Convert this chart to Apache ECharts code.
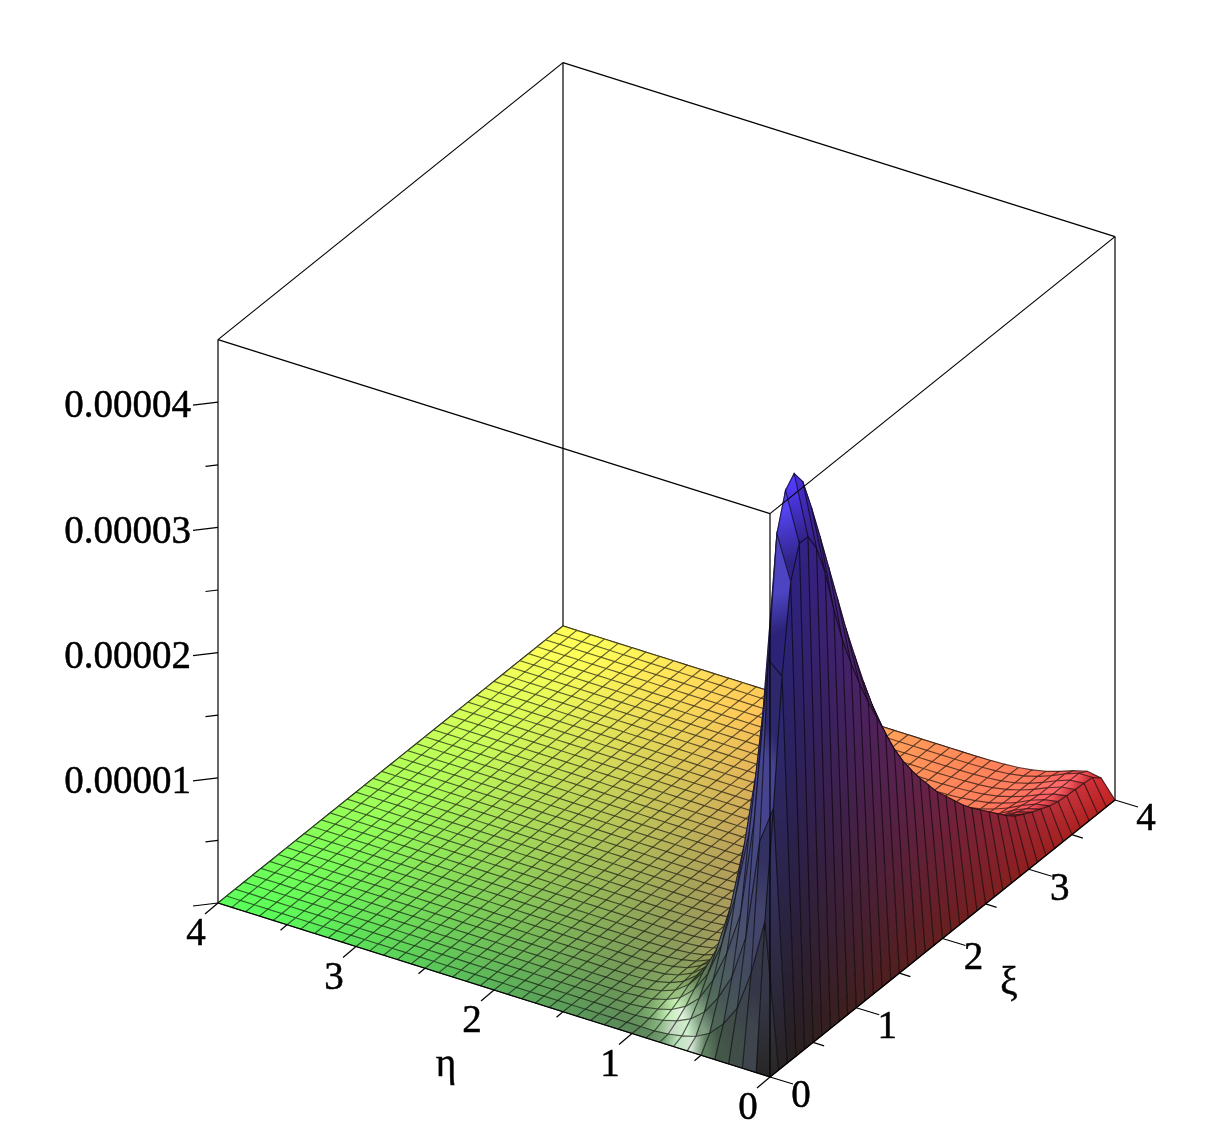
<!DOCTYPE html>
<html><head><meta charset="utf-8">
<style>html,body{margin:0;padding:0;background:#fff}#c{width:1215px;height:1141px}</style>
<script src="https://cdn.jsdelivr.net/npm/echarts@6/dist/echarts.min.js"></script>
</head><body><div id="c"></div>
<script>
// surface heights in units of 1e-6; one row per xi = 0, 0.1 ... 4.0, entries for eta = 0, 0.1, 0.2 ...; beyond the listed entries the surface lies on the floor
const zByXi = [
[0],
[0,11.5,7,3.9,2.3,1.2,.6,.3,.1],
[0,20,17,9,5.5,3.5,2,1.1,.6,.3,.1],
[0,30,31,18,10,6.5,4,2.2,1.2,.6,.3,.1],
[0,37,40.5,26,16,10.5,6.3,3.6,2,1,.5,.2,.1],
[0,39.5,43.4,31,21,14,8.7,5,2.8,1.5,.7,.3,.1],
[0,39.5,44.2,32.5,22.5,15.2,9.5,5.6,3.2,1.7,.85,.4,.15,.05],
[0,38,43,33,23,15.3,9.6,5.7,3.4,1.8,.95,.45,.2,.1],
[0,35.5,40.4,31.2,21.8,14.6,9.2,5.4,3.3,1.8,1,.48,.24,.1],
[0,32,37.5,28.5,20,13.3,8.3,4.9,3,1.65,.9,.45,.22,.1,.05],
[0,29,34.5,25.8,18,11.9,7.5,4.4,2.7,1.5,.8,.4,.2,.1,.05],
[0,26.6,31.5,23.8,16.6,11,7,4.2,2.6,1.4,.8,.4,.2,.1,.05],
[0,24.4,28.5,21.8,15.3,10.1,6.5,3.9,2.4,1.4,.8,.4,.2,.1,.05],
[0,22.4,25.8,19.8,14,9.2,6,3.7,2.3,1.35,.8,.4,.2,.1,.05,.02],
[0,20.6,23.2,18,12.9,8.4,5.6,3.5,2.2,1.3,.8,.4,.22,.1,.05,.02],
[0,18.8,20.8,16.3,11.8,7.8,5.2,3.3,2.1,1.3,.8,.42,.22,.11,.05,.02],
[0,17,18.6,14.8,10.7,7.1,4.8,3.1,2,1.25,.75,.42,.22,.11,.05,.02],
[0,15.5,16.7,13.3,9.7,6.5,4.4,2.9,1.9,1.2,.72,.42,.22,.11,.05,.02],
[0,14.2,15,12,8.8,6,4.1,2.7,1.8,1.15,.7,.42,.23,.12,.05,.02],
[0,13,13.5,10.8,7.9,5.4,3.8,2.4,1.6,1.05,.65,.38,.22,.1,.05,.02],
[0,11.9,12.2,9.8,7.2,5,3.5,2.3,1.5,1,.6,.35,.2,.1,.05,.02],
[0,10.8,10.9,8.8,6.4,4.4,3.1,2,1.35,.88,.52,.3,.17,.08,.04,.02],
[0,9.9,9.7,7.8,5.7,4,2.8,1.8,1.2,.78,.46,.26,.15,.07,.03,.01],
[0,9,8.6,6.9,5,3.5,2.5,1.55,1.05,.68,.4,.23,.13,.06,.03,.01],
[0,8.1,7.6,6,4.4,3.1,2.2,1.35,.9,.58,.33,.2,.11,.05,.02,.01],
[0,7.3,6.7,5.3,3.9,2.7,1.9,1.15,.75,.45,.26,.15,.08,.03,.02,.01],
[0,6.6,5.9,4.7,3.4,2.3,1.6,1,.62,.36,.2,.1,.06,.02,.01],
[0,5.9,5.2,4.1,2.95,2,1.35,.85,.52,.28,.15,.07,.04,.02],
[0,5.2,4.6,3.6,2.6,1.75,1.15,.7,.43,.22,.1,.05,.03,.01],
[0,4.5,4,3.1,2.25,1.52,.98,.6,.36,.19,.08,.04,.02],
[0,3.9,3.5,2.7,1.95,1.32,.84,.52,.31,.16,.07,.035,.02],
[0,3.5,3.1,2.4,1.73,1.17,.74,.46,.27,.13,.06,.03,.01],
[0,3.1,2.8,2.2,1.57,1.05,.66,.41,.24,.12,.05,.03,.01],
[0,2.8,2.5,2,1.4,.94,.58,.36,.21,.1,.05,.02,.01],
[0,2.5,2.3,1.85,1.29,.86,.53,.32,.18,.09,.04,.02],
[0,2.3,2.1,1.7,1.18,.78,.47,.28,.15,.07,.03,.01],
[0,2.2,2,1.6,1.12,.74,.44,.25,.13,.06,.02,.01],
[0,2.15,2,1.6,1.12,.72,.42,.22,.11,.05,.02],
[0,2.1,2,1.6,1.12,.7,.4,.2,.1,.04,.01],
[0,2,2,1.6,1.1,.7,.4,.2,.1,.04,.01],
[0,1.4,1.6,1.3,.9,.56,.32,.16,.08,.03]
];
const xiTicks = [0,1,2,3,4];
const etaTicks = [0,1,2,3,4];
const xiMinorTicks = [0.5,1.5,2.5,3.5];
const etaMinorTicks = [0.5,1.5,2.5,3.5];
const zTicks = [0,10,20,30,40];
const zMinorTicks = [5,15,25,35];
const zTickLabels = ['', '0.00001', '0.00002', '0.00003', '0.00004'];
const zMax = 45;
const cells = 40, cellSize = 0.1;

function project(xi, eta, z){
  return [770 + 86.25*xi - 138*eta, 1077 - 69.25*xi - 43.5*eta - 12.52*z];
}
function zAt(j, i){
  j = Math.max(0, Math.min(cells, j)); i = Math.max(0, Math.min(cells, i));
  const row = zByXi[j];
  return i < row.length ? row[i] : 0;
}
const norm = v => { const l = Math.hypot(v[0],v[1],v[2]); return [v[0]/l,v[1]/l,v[2]/l]; };
const dot = (a,b) => a[0]*b[0]+a[1]*b[1]+a[2]*b[2];
const LIGHT = norm([-0.2,0.75,0.6]);
const SIDE = norm([-0.8,0.3,0.5]);
const HALF = norm([-0.45,0.33,0.82]);
function vertexColor(j, i){
  const z = zAt(j,i);
  const ii = Math.max(i,1), jj = Math.max(j,1);
  const zx = (zAt(j+1,ii)-zAt(j-1,ii))/zMax/(((Math.min(cells,j+1)-Math.max(0,j-1)))*cellSize/4);
  const zy = (zAt(jj,i+1)-zAt(jj,i-1))/zMax/(((Math.min(cells,i+1)-Math.max(0,i-1)))*cellSize/4);
  const n = norm([-zx,-zy,1]);
  const d = Math.max(0,dot(n,LIGHT));
  const d2 = Math.max(0,dot(n,SIDE));
  const s = Math.pow(Math.max(0,dot(n,HALF)),30);
  const mult = 0.55 + 0.13*n[2] + 1.6*Math.max(0,d-0.6) + 0.3*Math.max(0,d2-0.5);
  const white = 0.12 + 0.18*Math.pow(n[2],4) + 0.13*Math.pow(d2,1.5) + 0.75*s;
  const base = [j/cells, i/cells, Math.pow(z/zMax,0.8)*0.8];
  return base.map(c => Math.min(1, c*mult + white));
}
const mix = (a,b) => [(a[0]+b[0])/2,(a[1]+b[1])/2,(a[2]+b[2])/2];
const rgb = c => 'rgb('+Math.round(c[0]*255)+','+Math.round(c[1]*255)+','+Math.round(c[2]*255)+')';

// far cells first so that nearer cells cover them
const cellData = [];
for (let j = cells-1; j >= 0; j--) for (let i = cells-1; i >= 0; i--) cellData.push([j,i]);

function renderCell(params, api){
  const j = api.value(0), i = api.value(1);
  const P = (jj,ii) => api.coord(project(jj*cellSize, ii*cellSize, zAt(jj,ii)));
  const a = P(j,i), b = P(j+1,i), c = P(j+1,i+1), d = P(j,i+1);
  const nearC = mix(vertexColor(j,i),vertexColor(j+1,i));
  const farC = mix(vertexColor(j,i+1),vertexColor(j+1,i+1));
  const m0 = [(a[0]+b[0])/2,(a[1]+b[1])/2], m1 = [(c[0]+d[0])/2,(c[1]+d[1])/2];
  const fill = new echarts.graphic.LinearGradient(m0[0],m0[1],m1[0],m1[1],[
    {offset:0,color:rgb(nearC)},{offset:1,color:rgb(farC)}],true);
  const lineStyle = {fill:null,stroke:'rgba(0,0,0,0.62)',lineWidth:1.15};
  const children = [
    {type:'polygon',shape:{points:[a,b,c,d]},style:{fill:fill,stroke:fill,lineWidth:0.5}},
    {type:'polyline',shape:{points:[d,c,b]},style:lineStyle}
  ];
  if (i===0) children.push({type:'line',shape:{x1:a[0],y1:a[1],x2:b[0],y2:b[1]},style:lineStyle});
  if (j===0) children.push({type:'line',shape:{x1:a[0],y1:a[1],x2:d[0],y2:d[1]},style:lineStyle});
  return {type:'group',children:children};
}

const TOP = zMax, END = 4;
const backEdges = [
  [[END,END,0],[END,END,TOP]], [[END,END,TOP],[END,0,TOP]], [[END,END,TOP],[0,END,TOP]],
  [[END,END,0],[END,0,0]], [[END,END,0],[0,END,0]],
  [[0,END,0],[0,END,TOP]], [[END,0,0],[END,0,TOP]]
];
const frontEdges = [
  [[0,0,0],[0,0,TOP]], [[0,0,TOP],[END,0,TOP]], [[0,0,TOP],[0,END,TOP]],
  [[0,0,0],[END,0,0]], [[0,0,0],[0,END,0]]
];
function renderEdge(edges){
  return function(params, api){
    const e = edges[api.value(0)];
    const p = api.coord(project(e[0][0],e[0][1],e[0][2])), q = api.coord(project(e[1][0],e[1][1],e[1][2]));
    return {type:'line',shape:{x1:p[0],y1:p[1],x2:q[0],y2:q[1]},style:{stroke:'#000',lineWidth:1.2,fill:null}};
  };
}
// tick marks: [xi, eta, z, dx, dy]
const tickMarks = [];
xiTicks.forEach(v=>tickMarks.push([v,0,0,23,7]));
xiMinorTicks.forEach(v=>tickMarks.push([v,0,0,11,3.5]));
etaTicks.forEach(v=>tickMarks.push([0,v,0,-13,11]));
etaMinorTicks.forEach(v=>tickMarks.push([0,v,0,-6.5,5.5]));
zTicks.forEach(v=>tickMarks.push([0,END,v,-25,3]));
zMinorTicks.forEach(v=>tickMarks.push([0,END,v,-12.5,1.5]));
function renderTick(params, api){
  const p = api.coord(project(api.value(0),api.value(1),api.value(2)));
  return {type:'line',shape:{x1:p[0],y1:p[1],x2:p[0]+api.value(3),y2:p[1]+api.value(4)},style:{stroke:'#000',lineWidth:1.2,fill:null}};
}
// labels: [xi, eta, z, dx, dy, text, align]
const labelData = [];
xiTicks.forEach(v=>labelData.push([v,0,0,31,20,String(v),'center']));
etaTicks.forEach(v=>labelData.push([0,v,0,-22,32,String(v),'center']));
zTicks.forEach((v,k)=>{ if(zTickLabels[k]) labelData.push([0,END,v,-27,5,zTickLabels[k],'right']); });
labelData.push([0,2,0,-48,76,'η','center']);
labelData.push([2,0,0,66.5,45,'ξ','center']);
const FONT = '39px "Liberation Serif","Times New Roman",serif';
function renderLabel(params, api){
  const d = labelData[params.dataIndex];
  const p = api.coord(project(d[0],d[1],d[2]));
  return {type:'text',style:{x:p[0]+d[3],y:p[1]+d[4],text:d[5],font:FONT,fill:'#000',stroke:'#000',lineWidth:0.5,align:d[6],verticalAlign:'middle'}};
}
const silentCustom = o => Object.assign({type:'custom',coordinateSystem:'cartesian2d',silent:true,animation:false,clip:false,progressive:0},o);

const chart = echarts.init(document.getElementById('c'),null,{renderer:'canvas'});
chart.setOption({
  animation:false,
  backgroundColor:'#fff',
  grid:{left:0,right:0,top:0,bottom:0,containLabel:false},
  xAxis:{type:'value',min:0,max:1215,show:false},
  yAxis:{type:'value',min:0,max:1141,inverse:true,show:false},
  tooltip:{show:false},
  series:[
    silentCustom({name:'back frame',z:1,data:backEdges.map((e,k)=>[k]),renderItem:renderEdge(backEdges)}),
    silentCustom({name:'surface',z:2,data:cellData,renderItem:renderCell}),
    silentCustom({name:'front frame',z:3,data:frontEdges.map((e,k)=>[k]),renderItem:renderEdge(frontEdges)}),
    silentCustom({name:'ticks',z:3,data:tickMarks,renderItem:renderTick}),
    silentCustom({name:'labels',z:4,data:labelData.map(d=>d.slice(0,5)),renderItem:renderLabel})
  ]
});
</script></body></html>
